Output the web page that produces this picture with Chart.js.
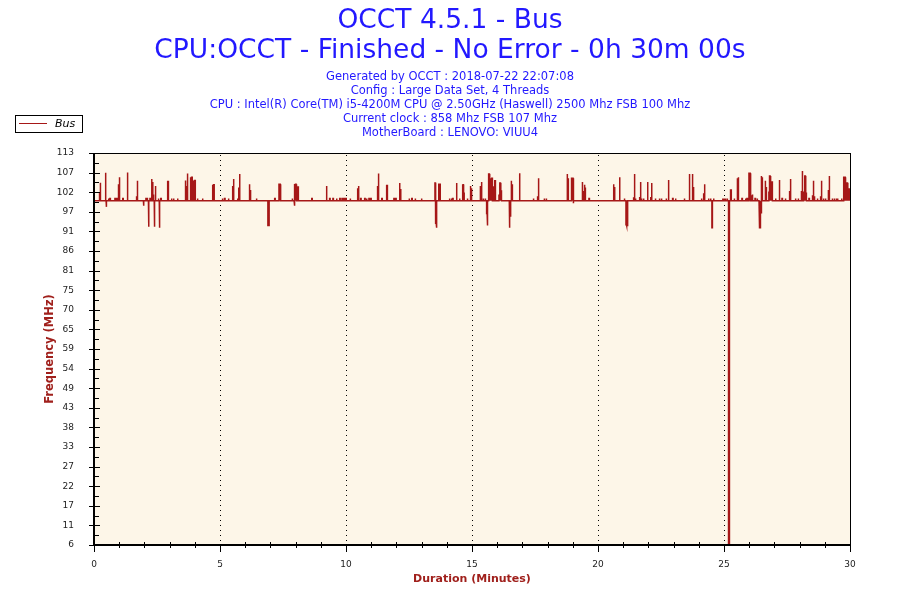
<!DOCTYPE html>
<html>
<head>
<meta charset="utf-8">
<script src="https://cdn.jsdelivr.net/npm/chart.js@4.4.0/dist/chart.umd.min.js"></script>
<style>
  html, body { margin: 0; padding: 0; background: #fff; }
  #wrap { width: 900px; height: 600px; }
</style>
</head>
<body>
<div id="wrap"><canvas id="chart" width="900" height="600"></canvas></div>
<script>
const titleLines = ['OCCT 4.5.1 - Bus', 'CPU:OCCT - Finished - No Error - 0h 30m 00s'];
const infoLines = [
  'Generated by OCCT : 2018-07-22 22:07:08',
  'Config : Large Data Set, 4 Threads',
  'CPU : Intel(R) Core(TM) i5-4200M CPU @ 2.50GHz (Haswell) 2500 Mhz FSB 100 Mhz',
  'Current clock : 858 Mhz FSB 107 Mhz',
  'MotherBoard : LENOVO: VIUU4'
];
const seriesName = 'Bus';
const xTicks = [0, 5, 10, 15, 20, 25, 30];
const yTickLabels = ['6', '11', '17', '22', '27', '33', '38', '43', '49', '54', '59',
  '65', '70', '75', '81', '86', '91', '97', '102', '107', '113'];

// bus clock in MHz, mostly flat at 100
const baseline = 100;
// tiny blips just above the baseline (minutes)
const bumps = [0.57, 0.63, 0.83, 0.90, 1.14, 2.06, 2.10, 2.22, 2.55, 2.65, 3.07, 3.15, 3.31, 4.10, 4.30,
  5.09, 5.18, 5.33, 5.69, 6.44, 7.17, 7.86, 8.64, 9.35, 9.48, 9.62, 9.75, 9.84, 9.92, 9.99,
  10.16, 10.58, 10.74, 10.81, 10.91, 10.98, 11.42, 11.90, 11.97, 12.50, 12.61, 12.74, 12.99,
  14.10, 14.18, 14.23, 14.50, 14.81, 15.44, 15.52, 17.43, 17.86, 17.94, 19.64,
  21.04, 21.48, 21.72, 21.80, 22.27, 22.43, 22.51, 22.70, 22.96, 23.07, 23.42, 24.10, 24.38, 24.46, 24.58, 24.94,
  25.00, 25.05, 25.12, 25.40, 25.71, 25.85, 25.91, 26.23, 26.31, 27.04, 27.30, 27.43, 27.83, 27.94,
  28.37, 28.70, 28.94, 29.02, 29.29, 29.37, 29.45, 29.50, 29.66];
const bumpValue = 100.6;
// [minute, MHz]
const spikes = [
  [0.22, 102], [0.25, 104.9], [0.45, 107.6], [0.48, 98.3], [0.96, 104.5], [1.00, 106.4], [1.32, 107.7],
  [1.69, 101], [1.72, 105.4], [1.96, 98.6], [2.16, 92.9], [2.28, 105.9], [2.32, 105.1], [2.35, 101.7],
  [2.39, 92.9], [2.43, 104.0], [2.59, 92.6], [2.91, 105.4], [2.94, 105.4], [3.62, 105.5], [3.66, 104],
  [3.70, 107.4], [3.82, 106.4], [3.85, 106.4], [3.88, 106.4], [3.94, 105.5], [3.97, 105.5], [4.00, 105.5],
  [4.69, 104.3], [4.72, 104], [4.75, 104.3],
  [5.49, 104], [5.53, 105.9], [5.73, 103.6], [5.77, 107.3], [6.16, 104.5], [6.20, 102.9], [6.90, 93.2],
  [6.93, 93.2], [7.34, 104.5], [7.37, 104.5], [7.40, 104.5], [7.94, 98.6], [7.97, 104.3], [8.00, 104.5],
  [8.03, 103.7], [8.06, 103.7], [8.09, 103.7], [9.22, 104],
  [10.45, 103.4], [10.49, 104], [11.24, 104], [11.28, 107.4], [11.60, 104.3], [11.63, 104.3],
  [12.12, 104.8], [12.16, 103.2], [13.53, 104.8], [13.56, 93.8], [13.59, 92.6], [13.66, 104.5],
  [13.69, 104.5], [13.72, 104.5], [14.38, 104.8], [14.61, 104.5], [14.64, 104.3], [14.67, 102],
  [14.93, 104], [14.97, 103.4],
  [15.32, 104], [15.37, 105.1], [15.58, 96.5], [15.61, 93.2], [15.64, 101.5], [15.67, 107.3],
  [15.71, 105.9], [15.75, 105.4], [15.79, 106.1], [15.87, 103.7], [15.91, 105.4], [16.07, 101.5],
  [16.11, 104.8], [16.15, 102.6], [16.48, 92.6], [16.52, 95.6], [16.55, 105.4], [16.59, 104.5],
  [16.88, 107.5], [17.59, 101.2], [17.63, 106.1], [18.77, 107.3], [18.81, 106.1], [18.93, 106.1],
  [18.96, 106.1], [18.99, 106.1], [19.02, 99.3], [19.37, 105.1], [19.41, 102.6], [19.45, 104.3],
  [19.48, 103.4],
  [20.61, 104.5], [20.65, 103.7], [20.85, 106.4], [21.11, 93.4], [21.14, 93.2], [21.17, 93.4],
  [21.40, 100.9], [21.44, 107.3], [21.64, 101], [21.68, 105.1], [21.96, 105.1], [22.08, 101],
  [22.12, 104.8], [22.79, 105.6], [23.62, 107.3], [23.74, 107.3], [23.78, 103.7], [24.18, 102],
  [24.22, 104.5], [24.52, 92.6],
  [25.18, 6], [25.21, 51], [25.24, 102.9], [25.27, 102.9], [25.52, 106.1], [25.56, 106.4],
  [25.99, 107.5], [26.02, 107.5], [26.05, 107.5], [26.08, 101.5], [26.12, 101.7], [26.39, 97.9],
  [26.42, 92.6], [26.45, 96.7], [26.48, 106.7], [26.51, 106.4], [26.63, 105.4], [26.67, 103.7],
  [26.78, 102.3], [26.81, 106.7], [26.86, 102.6], [26.90, 105.1], [27.19, 105.6], [27.59, 102.6],
  [27.63, 105.9], [28.06, 102.6], [28.10, 108.1], [28.14, 102.3], [28.17, 102.3], [28.21, 106.7],
  [28.25, 102], [28.50, 101.5], [28.54, 105.4], [28.58, 101.2], [28.82, 101.2], [28.86, 105.4],
  [29.13, 102.9], [29.17, 106.7], [29.73, 106.4], [29.76, 106.4], [29.79, 106.4], [29.83, 101.7],
  [29.88, 104.8], [29.92, 103.2], [29.95, 103.2], [29.98, 103.2]
];

const lineColor = '#a61717';
const textBlue = '#2218ff';
const labelRed = '#a0201c';
const sampleWidth = 0.02; // one sample, in minutes

const events = spikes.map(([t, v]) => ({ t, v }))
  .concat(bumps.map(t => ({ t, v: bumpValue })))
  .sort((a, b) => a.t - b.t);

const points = [{ x: 0, y: baseline }];
events.forEach(e => {
  points.push({ x: e.t, y: baseline }, { x: e.t, y: e.v },
    { x: e.t + sampleWidth, y: e.v }, { x: e.t + sampleWidth, y: baseline });
});
points.push({ x: 30, y: baseline });

const occtDecor = {
  id: 'occtDecor',
  beforeDraw(chart) {
    const { ctx, chartArea: a } = chart;
    ctx.save();
    ctx.fillStyle = '#fdf6e8';
    ctx.fillRect(a.left, a.top, a.right - a.left, a.bottom - a.top);
    ctx.restore();
  },
  beforeDatasetsDraw(chart) {
    const { ctx, chartArea: a, scales: { x } } = chart;
    ctx.save();
    ctx.strokeStyle = '#000';
    ctx.lineWidth = 1;
    ctx.setLineDash([1, 4]);
    xTicks.slice(1, -1).forEach(v => {
      const px = Math.round(x.getPixelForValue(v)) + 0.5;
      ctx.beginPath();
      ctx.moveTo(px, a.top + 2);
      ctx.lineTo(px, a.bottom);
      ctx.stroke();
    });
    ctx.restore();
  },
  afterDraw(chart) {
    const { ctx, chartArea: a, scales: { x, y } } = chart;
    ctx.save();
    // frame
    ctx.strokeStyle = '#000';
    ctx.lineWidth = 1;
    ctx.strokeRect(a.left + 0.5, a.top + 0.5, a.right - a.left, a.bottom - a.top);
    ctx.lineWidth = 2;
    ctx.beginPath();
    ctx.moveTo(a.left, a.top);
    ctx.lineTo(a.left, a.bottom);
    ctx.lineTo(a.right, a.bottom);
    ctx.stroke();

    // tick marks
    ctx.lineWidth = 1;
    ctx.beginPath();
    for (let m = 0; m <= 30; m++) {
      const px = Math.round(x.getPixelForValue(m)) + 0.5;
      if (m % 5 === 0) {
        ctx.moveTo(px, a.bottom);
        ctx.lineTo(px, a.bottom + 7);
      } else {
        ctx.moveTo(px, a.bottom - 3);
        ctx.lineTo(px, a.bottom + 3);
      }
    }
    y.ticks.forEach((t, i) => {
      const py = Math.round(y.getPixelForValue(t.value)) + 0.5;
      ctx.moveTo(a.left - 5, py);
      ctx.lineTo(a.left + 6, py);
      if (i < y.ticks.length - 1) {
        const pm = Math.round(y.getPixelForValue((t.value + y.ticks[i + 1].value) / 2)) + 0.5;
        ctx.moveTo(a.left, pm);
        ctx.lineTo(a.left + 5, pm);
      }
    });
    ctx.stroke();

    // header text
    ctx.fillStyle = textBlue;
    ctx.textAlign = 'center';
    ctx.textBaseline = 'middle';
    ctx.font = '26.5px "DejaVu Sans"';
    titleLines.forEach((s, i) => ctx.fillText(s, 450, 21 + i * 30));
    ctx.font = '11.5px "DejaVu Sans"';
    infoLines.forEach((s, i) => ctx.fillText(s, 450, 77 + i * 14));

    // legend
    ctx.fillStyle = '#fff';
    ctx.fillRect(15.5, 115.5, 67, 17);
    ctx.strokeStyle = '#000';
    ctx.strokeRect(15.5, 115.5, 67, 17);
    ctx.strokeStyle = lineColor;
    ctx.beginPath();
    ctx.moveTo(19, 123.5);
    ctx.lineTo(47, 123.5);
    ctx.stroke();
    ctx.fillStyle = '#000';
    ctx.textAlign = 'left';
    ctx.font = 'italic 11px "DejaVu Sans"';
    ctx.fillText(seriesName, 55, 124);
    ctx.restore();
  }
};

new Chart(document.getElementById('chart'), {
  type: 'line',
  data: {
    datasets: [{
      label: seriesName,
      data: points,
      borderColor: lineColor,
      borderWidth: 1.5,
      pointRadius: 0,
      tension: 0
    }]
  },
  options: {
    responsive: false,
    animation: false,
    devicePixelRatio: 1,
    layout: { padding: { top: 153, right: 50, left: 0, bottom: 0 } },
    plugins: { legend: { display: false }, tooltip: { enabled: false } },
    scales: {
      x: {
        type: 'linear',
        min: 0,
        max: 30,
        afterFit: s => { s.height = 55; },
        afterBuildTicks: s => { s.ticks = xTicks.map(v => ({ value: v })); },
        grid: { display: false },
        border: { display: false },
        ticks: { color: '#222', padding: 6, font: { family: 'DejaVu Sans', size: 9 } },
        title: {
          display: true,
          text: 'Duration (Minutes)',
          color: labelRed,
          font: { family: 'DejaVu Sans', size: 11, weight: 'bold' },
          padding: { top: 0, bottom: 14 }
        }
      },
      y: {
        type: 'linear',
        min: 6,
        max: 113,
        afterFit: s => { s.width = 94; },
        afterBuildTicks: s => {
          s.ticks = yTickLabels.map((l, i) => ({ value: 6 + i * 107 / (yTickLabels.length - 1) }));
        },
        grid: { display: false },
        border: { display: false },
        ticks: {
          color: '#222',
          padding: 12,
          font: { family: 'DejaVu Sans', size: 9 },
          callback: (v, i) => yTickLabels[i]
        },
        title: {
          display: true,
          text: 'Frequency (MHz)',
          color: labelRed,
          font: { family: 'DejaVu Sans', size: 11.5, weight: 'bold' },
          padding: { top: 43, bottom: 0 }
        }
      }
    }
  },
  plugins: [occtDecor]
});
</script>
</body>
</html>
